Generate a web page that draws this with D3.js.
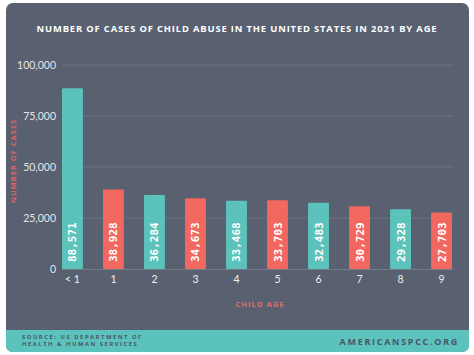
<!DOCTYPE html>
<html><head><meta charset="utf-8">
<script src="https://cdn.jsdelivr.net/npm/d3@7"></script>
<style>html,body{margin:0;padding:0;background:#fff;}svg{display:block;}</style>
</head><body>
<svg id="chart" width="474" height="355"></svg>
<script>
const categories = ["< 1","1","2","3","4","5","6","7","8","9"];
const cases = [88571,38928,36284,34673,33468,33703,32483,30729,29328,27703];
const yTicks = [0,25000,50000,75000,100000];
const barColors = ["#5bc3bb","#f2675f"];

const svg = d3.select("#chart");
const bg = "#59606f";

// card
svg.append("rect").attr("x",6).attr("y",3).attr("width",463).attr("height",349).attr("rx",7).attr("fill",bg);
// footer
svg.append("path")
  .attr("d","M6,330 H469 V345 Q469,352 462,352 H13 Q6,352 6,345 Z")
  .attr("fill","#5bc3bb");

svg.append("text").attr("x",237).attr("y",32).attr("text-anchor","middle")
  .attr("fill","#ffffff").attr("font-family","Open Sans, sans-serif").attr("font-weight",700)
  .attr("font-size",9.4).attr("letter-spacing",0.85)
  .text("NUMBER OF CASES OF CHILD ABUSE IN THE UNITED STATES IN 2021 BY AGE");

const x = d3.scaleBand().domain(categories).range([62,452]).paddingInner(0.49).paddingOuter(0);
const y = d3.scaleLinear().domain([0,100000]).range([269,65]);

// gridlines
svg.append("g").selectAll("line").data(yTicks.filter(d=>d>0)).join("line")
  .attr("x1",62).attr("x2",453).attr("y1",d=>y(d)).attr("y2",d=>y(d))
  .attr("stroke","#6b7384").attr("stroke-width",1);
svg.append("line").attr("x1",62).attr("x2",453).attr("y1",y(0)+0.5).attr("y2",y(0)+0.5)
  .attr("stroke","#737b8b").attr("stroke-width",1.2);

// y axis
const yAxis = d3.axisLeft(y).tickValues(yTicks).tickSize(0).tickPadding(0).tickFormat(d3.format(","));
const ya = svg.append("g").attr("transform","translate(56,0)").call(yAxis);
ya.select(".domain").remove();
ya.selectAll("text").attr("fill","#e4e6ea").attr("font-family","Lato, sans-serif").attr("font-size",10.5);

// x axis
const xAxis = d3.axisBottom(x).tickSize(0).tickPadding(0);
const xa = svg.append("g").attr("transform","translate(0,276)").call(xAxis);
xa.select(".domain").remove();
xa.selectAll("text").attr("fill","#eef0f2").attr("font-family","Lato, sans-serif").attr("font-size",10.5);

// bars
svg.append("g").selectAll("rect").data(cases).join("rect")
  .attr("x",(d,i)=>x(categories[i])).attr("width",x.bandwidth())
  .attr("y",d=>y(d)).attr("height",d=>y(0)-y(d))
  .attr("rx",1)
  .attr("fill",(d,i)=>barColors[i%2]);

// value labels
svg.append("g").selectAll("text").data(cases).join("text")
  .attr("transform",(d,i)=>`translate(${x(categories[i])+x.bandwidth()/2+4},262) rotate(-90)`)
  .attr("fill","#ffffff").attr("font-family","DejaVu Sans Mono, monospace").attr("font-weight","bold")
  .attr("font-size",11).attr("text-anchor","start")
  .text(d=>d3.format(",")(d));

// axis titles
svg.append("text").attr("transform","translate(16,161) rotate(-90)").attr("text-anchor","middle")
  .attr("fill","#e0625f").attr("font-family","Open Sans, sans-serif").attr("font-weight",700)
  .attr("font-size",7.5).attr("letter-spacing",1).text("NUMBER OF CASES");
svg.append("text").attr("x",260).attr("y",307).attr("text-anchor","middle")
  .attr("fill","#d86f6d").attr("font-family","Open Sans, sans-serif").attr("font-weight",700)
  .attr("font-size",7.8).attr("letter-spacing",0.9).text("CHILD AGE");

// footer text
const ft = svg.append("text").attr("fill","#4b5566").attr("font-family","Open Sans, sans-serif")
  .attr("font-weight",700).attr("font-size",5.8).attr("letter-spacing",1.55);
ft.append("tspan").attr("x",22).attr("y",339).text("SOURCE: US DEPARTMENT OF");
ft.append("tspan").attr("x",22).attr("y",345.5).text("HEALTH & HUMAN SERVICES");
svg.append("text").attr("x",459).attr("y",345).attr("text-anchor","end")
  .attr("fill","#4b5566").attr("font-family","Open Sans, sans-serif").attr("font-weight",700)
  .attr("font-size",9).attr("letter-spacing",1.7).text("AMERICANSPCC.ORG");
</script>
</body></html>
